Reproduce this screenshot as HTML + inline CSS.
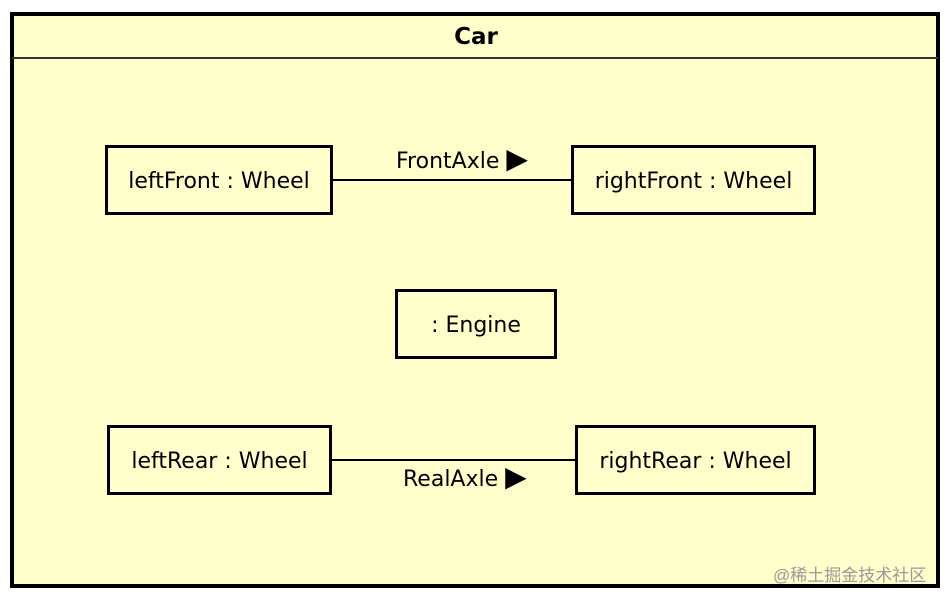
<!DOCTYPE html>
<html><head><style>
body{margin:0;width:952px;height:600px;background:#fff;position:relative;overflow:hidden;font-family:"DejaVu Sans","Liberation Sans",sans-serif;}
.b{position:absolute;box-sizing:border-box;border:3px solid #000;background:#ffffcc;display:flex;align-items:center;justify-content:center;font-size:22px;color:#000;padding-top:2px;}
.t{position:absolute;font-size:22px;white-space:nowrap;}
.l{position:absolute;height:2px;background:#000;}
</style></head><body>
<div style="position:absolute;left:10px;top:12px;width:930px;height:576px;box-sizing:border-box;border:4px solid #000;background:#ffffcc;"></div>
<div class="l" style="left:12px;top:57px;width:926px;height:2px;background:#333"></div>
<div class="t" style="left:0;width:952px;text-align:center;top:24px;font-weight:bold;font-size:23px">Car</div>
<div class="l" style="left:333px;top:179px;width:238px"></div>
<div class="l" style="left:331px;top:459px;width:244px"></div>
<div class="b" style="left:105px;top:145px;width:228px;height:70px">leftFront : Wheel</div>
<div class="b" style="left:571px;top:145px;width:245px;height:70px">rightFront : Wheel</div>
<div class="b" style="left:395px;top:289px;width:162px;height:70px">: Engine</div>
<div class="b" style="left:107px;top:425px;width:225px;height:70px">leftRear : Wheel</div>
<div class="b" style="left:575px;top:425px;width:241px;height:70px">rightRear : Wheel</div>
<div class="t" style="left:396px;top:148px">FrontAxle <span style="font-size:28px;line-height:22px">▶</span></div>
<div class="t" style="left:403px;top:466px">RealAxle <span style="font-size:28px;line-height:22px">▶</span></div>
<div class="t" style="left:773px;top:561px;font-size:17px;color:#999;font-family:'Liberation Sans','Noto Sans CJK SC',sans-serif">@稀土掘金技术社区</div>
</body></html>
